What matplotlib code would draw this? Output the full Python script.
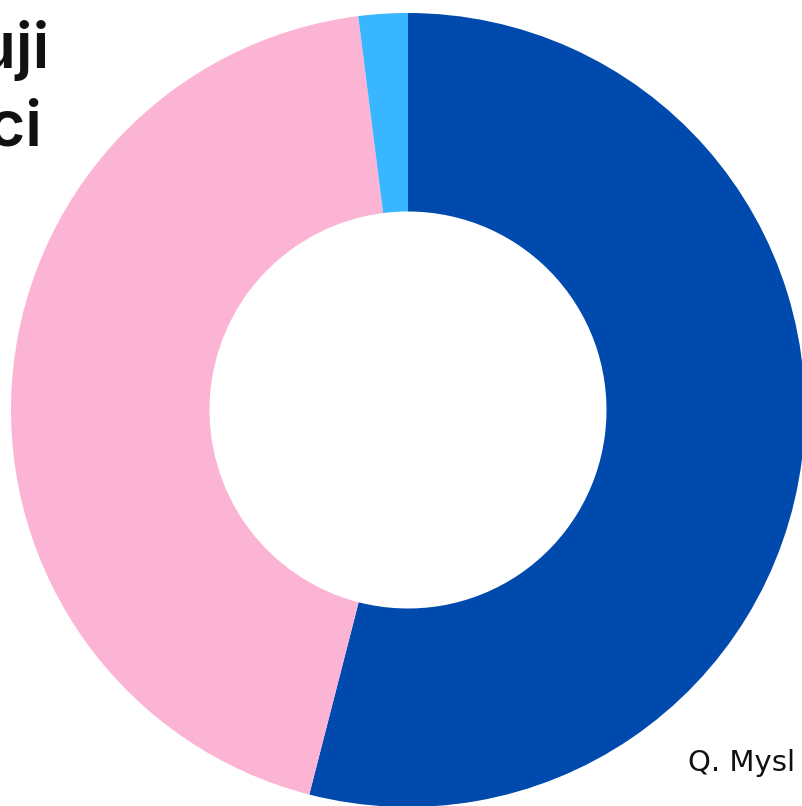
import matplotlib.pyplot as plt

# share of answers, clockwise from the top
labels = ['Ano', 'Ne', 'Nevím']
values = [54.0, 44.0, 2.0]
colors = ['#004aad', '#fbb4d4', '#38b6ff']

title_lines = ['Podporuji', 'koalici']
note = 'Q. Mysl'

W, H = 803, 806
cx, cy, r = 408, 410, 397

fig = plt.figure(figsize=(W / 100, H / 100), dpi=100)
ax = fig.add_axes([(cx - r) / W, (H - cy - r) / H, 2 * r / W, 2 * r / H])
ax.pie(values, colors=colors, startangle=90, counterclock=False,
       radius=1, wedgeprops=dict(width=0.5, linewidth=0))
ax.set_xlim(-1, 1)
ax.set_ylim(-1, 1)
ax.set_aspect('equal')
ax.axis('off')

font = ['Inter', 'DejaVu Sans']
fig.text(50 / W, 1 - 68 / H, title_lines[0], ha='right', va='baseline',
         fontsize=46, fontweight='semibold', family=font, color='#111111')
fig.text(43 / W, 1 - 145 / H, title_lines[1], ha='right', va='baseline',
         fontsize=46, fontweight='semibold', family=font, color='#111111')
fig.text(688 / W, 1 - 771 / H, note, ha='left', va='baseline',
         fontsize=21, family='DejaVu Sans', color='#111111')

fig.savefig('out.png', dpi=100)
